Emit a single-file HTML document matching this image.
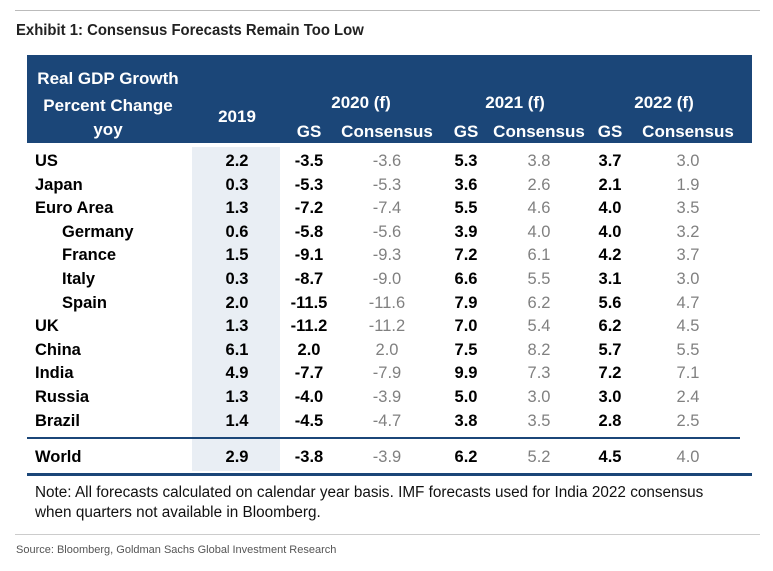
<!DOCTYPE html>
<html><head><meta charset="utf-8">
<style>
body{margin:0;background:#fff;width:773px;height:571px;position:relative;overflow:hidden;font-family:"Liberation Sans",Arial,sans-serif;}
.abs{position:absolute;white-space:nowrap;}
#hdr{position:absolute;left:27px;top:55px;width:725px;height:88px;background:#1b4678;}
.h{color:#fff;font-weight:bold;font-size:17px;position:absolute;white-space:nowrap;transform:translateX(-50%);}
.c{position:absolute;font-size:16.5px;transform:translateX(-50%);white-space:nowrap;}
.g{font-weight:bold;color:#000;}
.n{color:#808080;}
.lbl{position:absolute;font-size:16.5px;font-weight:bold;color:#000;}
</style></head><body>
<div class="abs" style="left:15px;top:10px;width:745px;border-top:1px solid #bbb;"></div>
<div class="abs" style="left:16px;top:22px;font-size:15.5px;font-weight:bold;color:#222;transform:scaleX(0.96);transform-origin:left;">Exhibit 1: Consensus Forecasts Remain Too Low</div>
<div id="hdr"></div>
<div class="abs" style="left:192px;top:147px;width:88px;height:324px;background:#e9eef4;"></div>
<div class="h" style="left:108px;top:69px;">Real GDP Growth</div>
<div class="h" style="left:108px;top:96px;">Percent Change</div>
<div class="h" style="left:108px;top:120px;">yoy</div>
<div class="h" style="left:237px;top:107px;">2019</div>
<div class="h" style="left:361px;top:93px;">2020 (f)</div>
<div class="h" style="left:515px;top:93px;">2021 (f)</div>
<div class="h" style="left:664px;top:93px;">2022 (f)</div>
<div id="sub"></div>
<div class="abs" style="left:27px;top:437px;width:713px;border-top:2px solid #1b4678;"></div>
<div class="abs" style="left:27px;top:473px;width:725px;border-top:3px solid #1b4678;"></div>
<div class="abs" style="left:35px;top:483px;font-size:15.3px;color:#111;line-height:20px;">Note: All forecasts calculated on calendar year basis. IMF forecasts used for India 2022 consensus<br>when quarters not available in Bloomberg.</div>
<div class="abs" style="left:15px;top:534px;width:745px;border-top:1px solid #ccc;"></div>
<div class="abs" style="left:16px;top:544px;font-size:11px;color:#555;">Source: Bloomberg, Goldman Sachs Global Investment Research</div>
<div id="rows"></div>
<script>
const countries=["US","Japan","Euro Area","Germany","France","Italy","Spain","UK","China","India","Russia","Brazil","World"];
const indent=[0,0,0,1,1,1,1,0,0,0,0,0,0];
const v2019=["2.2","0.3","1.3","0.6","1.5","0.3","2.0","1.3","6.1","4.9","1.3","1.4","2.9"];
const gs2020=["-3.5","-5.3","-7.2","-5.8","-9.1","-8.7","-11.5","-11.2","2.0","-7.7","-4.0","-4.5","-3.8"];
const cons2020=["-3.6","-5.3","-7.4","-5.6","-9.3","-9.0","-11.6","-11.2","2.0","-7.9","-3.9","-4.7","-3.9"];
const gs2021=["5.3","3.6","5.5","3.9","7.2","6.6","7.9","7.0","7.5","9.9","5.0","3.8","6.2"];
const cons2021=["3.8","2.6","4.6","4.0","6.1","5.5","6.2","5.4","8.2","7.3","3.0","3.5","5.2"];
const gs2022=["3.7","2.1","4.0","4.0","4.2","3.1","5.6","6.2","5.7","7.2","3.0","2.8","4.5"];
const cons2022=["3.0","1.9","3.5","3.2","3.7","3.0","4.7","4.5","5.5","7.1","2.4","2.5","4.0"];
const subLabels=["GS","Consensus","GS","Consensus","GS","Consensus"];
const colX=[237,309,387,466,539,610,688];
const rowY=i=>i<12?152+i*23.6:448;
const sub=document.getElementById('sub');
subLabels.forEach((t,k)=>{const d=document.createElement('div');d.className='h';d.style.left=colX[k+1]+'px';d.style.top='122px';d.textContent=t;


sub.appendChild(d);});
const rows=document.getElementById('rows');
const cols=[[v2019,'g'],[gs2020,'g'],[cons2020,'n'],[gs2021,'g'],[cons2021,'n'],[gs2022,'g'],[cons2022,'n']];
countries.forEach((c,i)=>{const y=rowY(i);
const l=document.createElement('div');l.className='lbl';l.style.left=(indent[i]?62:35)+'px';l.style.top=y+'px';l.textContent=c;


rows.appendChild(l);
cols.forEach(([arr,cls],k)=>{const d=document.createElement('div');d.className='c '+cls;d.style.left=colX[k]+'px';d.style.top=y+'px';d.textContent=arr[i];


rows.appendChild(d);});});
</script>
</body></html>
